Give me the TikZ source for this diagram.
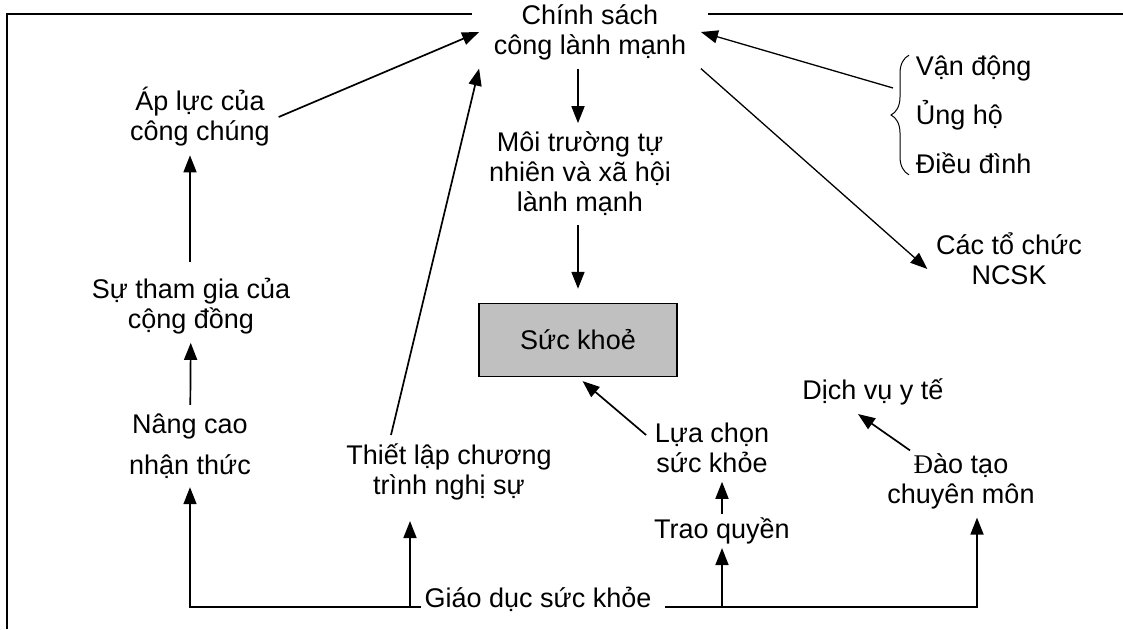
\documentclass[tikz,border=0pt]{standalone}
\usepackage{fontspec}
\setmainfont{Liberation Sans}
\newfontfamily\timesfont{Liberation Serif}
\usetikzlibrary{arrows.meta,decorations.pathreplacing}
\definecolor{boxgray}{RGB}{192,192,192}

\begin{document}
\begin{tikzpicture}[->,>={Triangle[length=17pt,width=13pt]},x=1pt,y=-1pt,line width=1.7pt,
  label node/.style={align=center,inner sep=8pt,font=\fontsize{27}{30}\selectfont},
  health box/.style={label node,draw,fill=boxgray,minimum width=198pt,minimum height=73pt,line width=1.4pt}]

  \useasboundingbox (0,0) rectangle (1123,629);

  \node[label node,inner xsep=14pt] (policy) at (590,32) {Chính sách\\công lành mạnh};
  \node[label node] (environ) at (580,174) {Môi trường tự\\nhiên và xã hội\\lành mạnh};
  \node[health box] (health) at (578,340) {Sức khoẻ};
  \node[label node] (pressure) at (200,117) {Áp lực của\\công chúng};
  \node[label node] (community) at (191,306) {Sự tham gia của\\cộng đồng};
  \node[label node] (aware) at (190,446) {Nâng cao\\[11pt]nhận thức};
  \node[label node] (agenda) at (449,472) {Thiết lập chương\\trình nghị sự};
  \node[label node,anchor=base,inner xsep=3pt] (educ) at (538,607) {Giáo dục sức khỏe};
  \node[label node,inner ysep=3pt] (empower) at (722,531) {Trao quyền};
  \node[label node] (choice) at (712,448) {Lựa chọn\\sức khỏe};
  \node[label node] (services) at (873,392) {Dịch vụ y tế};
  \node[label node] (training) at (961,481) {{\timesfont Đ}ào tạo\\chuyên môn};
  \node[label node] (orgs) at (1009,259) {Các tổ chức\\NCSK};
  \node[label node,align=left,anchor=west,inner sep=0pt] (support) at (915,115) {Vận động\\[19pt]Ủng hộ\\[19pt]Điều đình};

  % frame
  \coordinate (corner) at (7,14);
  \coordinate (bottom) at (7,629);
  \coordinate (rightend) at (1123,14);
  \coordinate (polleft) at ([xshift=-7pt]policy.west);
  \coordinate (polright) at ([xshift=7pt]policy.east);
  \draw[-] (polleft |- corner) -- (corner) -- (bottom);
  \draw[-] (polright |- corner) -- (rightend);

  % brace
  \draw[-,line width=1pt,decorate,decoration={brace,amplitude=18pt}]
    ([xshift=-6pt]support.south west) -- ([xshift=-6pt]support.north west);
  \coordinate (bracetail) at ([xshift=-22pt,yshift=27pt]support.west);
  \coordinate (agendafoot) at ([xshift=-39pt]agenda.south);
  \coordinate (educright) at ([xshift=10pt]educ.base east);

  \path
    (policy.south -| health) edge (environ.north -| health)
    (environ.south -| health) edge[shorten >=14pt] (health)
    (policy.south east) edge[line width=1.3pt] ([yshift=-10pt]orgs.west)
    (bracetail) edge[line width=1.3pt] (policy.east)
    (pressure.east) edge (policy.west)
    ([xshift=-58pt]agenda.north) edge (policy.south west)
    (community.north -| aware) edge[shorten <=7pt] (pressure.south -| aware)
    (aware) edge (community)
    ([yshift=13pt]choice.west) edge[shorten >=6pt] (health.south)
    (empower.north) edge (empower.north |- choice.south)
    ([xshift=-51pt,yshift=-6pt]training.north) edge ([xshift=-15pt]services.south)
;
  \draw (educ.base west) -| (aware);
  \draw (educright) -| ([xshift=16pt]training.south);
  \draw[shorten >=12pt] (agendafoot |- educ.base) -- (agendafoot);
  \draw (educright -| empower) -- (empower);
\end{tikzpicture}
\end{document}
